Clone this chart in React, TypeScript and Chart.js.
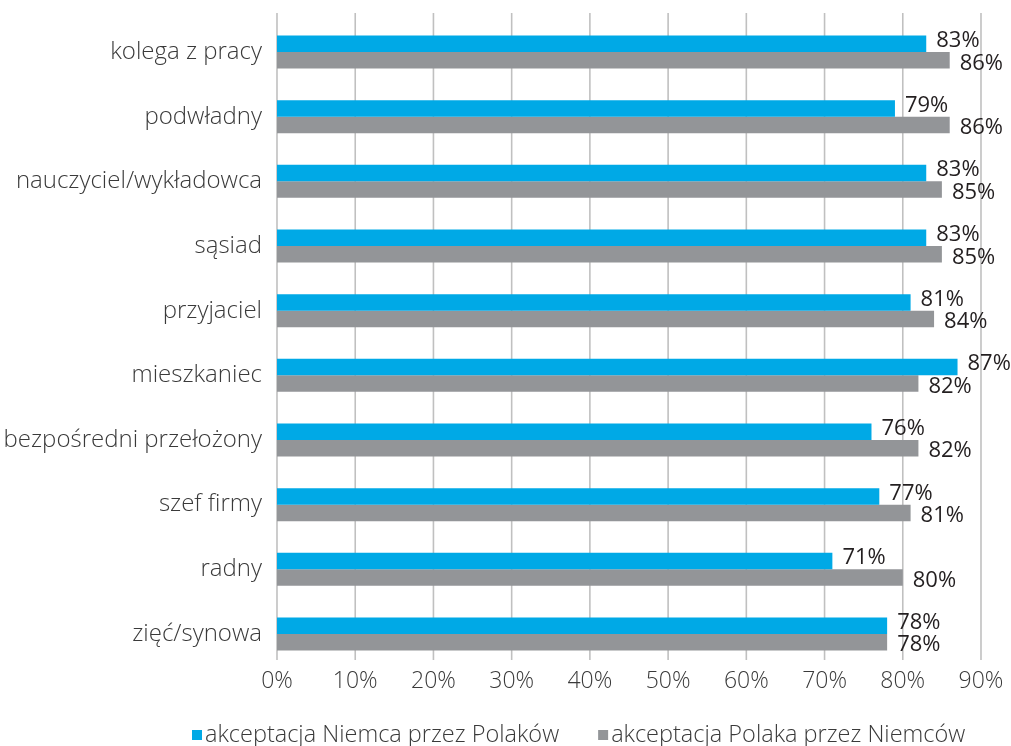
import React, { useEffect, useRef } from "react";
import { Chart, registerables } from "chart.js";

Chart.register(...registerables);

const categories = [
  "kolega z pracy",
  "podwładny",
  "nauczyciel/wykładowca",
  "sąsiad",
  "przyjaciel",
  "mieszkaniec",
  "bezpośredni przełożony",
  "szef firmy",
  "radny",
  "zięć/synowa",
];
const seriesNames = ["akceptacja Niemca przez Polaków", "akceptacja Polaka przez Niemców"];
const niemcaPrzezPolakow = [83, 79, 83, 83, 81, 87, 76, 77, 71, 78];
const polakaPrzezNiemcow = [86, 86, 85, 85, 84, 82, 82, 81, 80, 78];
const xTickValues = [0, 10, 20, 30, 40, 50, 60, 70, 80, 90];

const BLUE = "#00A9E6";
const GREY = "#939598";
const FONT = "'Open Sans'";

const gridPlugin = {
  id: "customGrid",
  beforeDatasetsDraw(chart: any) {
    const { ctx, chartArea, scales } = chart;
    const xs = scales.x;
    ctx.save();
    ctx.strokeStyle = "#c0c0c0";
    ctx.lineWidth = 1.6;
    xTickValues.forEach((v) => {
      const x = xs.getPixelForValue(v);
      ctx.beginPath();
      ctx.moveTo(x, chartArea.top - 6.7);
      ctx.lineTo(x, chartArea.bottom - 6.3);
      ctx.stroke();
    });
    ctx.restore();
  },
};

const labelPlugin = {
  id: "valueLabels",
  afterDatasetsDraw(chart: any) {
    const { ctx } = chart;
    ctx.save();
    ctx.font = `22px ${FONT}`;
    ctx.fillStyle = "#231f20";
    ctx.textBaseline = "middle";
    ctx.textAlign = "left";
    chart.data.datasets.forEach((ds: any, di: number) => {
      const meta = chart.getDatasetMeta(di);
      meta.data.forEach((bar: any, i: number) => {
        const yOff = di === 0 ? -3 : 3;
        ctx.fillText(`${ds.data[i]}%`, bar.x + 10, bar.y + yOff);
      });
    });
    ctx.restore();
  },
};

const legendPlugin = {
  id: "customLegend",
  afterDraw(chart: any) {
    const { ctx } = chart;
    ctx.save();
    ctx.font = `300 23.5px ${FONT}`;
    ctx.textBaseline = "middle";
    ctx.textAlign = "left";
    const y = 735;
    let x = 192;
    chart.data.datasets.forEach((ds: any) => {
      ctx.fillStyle = ds.backgroundColor;
      ctx.fillRect(x, y - 5, 10, 10);
      ctx.fillStyle = "#3a3a3a";
      ctx.fillText(ds.label, x + 13, y);
      x += 13 + ctx.measureText(ds.label).width + 39;
    });
    ctx.restore();
  },
};

export default function App() {
  const ref = useRef<HTMLCanvasElement>(null);
  useEffect(() => {
    document.body.style.margin = "0";
    if (!ref.current) return;
    const chart = new Chart(ref.current, {
      type: "bar",
      data: {
        labels: categories,
        datasets: [
          { label: seriesNames[0], data: niemcaPrzezPolakow, backgroundColor: BLUE, barPercentage: 1, categoryPercentage: 0.51 },
          { label: seriesNames[1], data: polakaPrzezNiemcow, backgroundColor: GREY, barPercentage: 1, categoryPercentage: 0.51 },
        ],
      },
      options: {
        indexAxis: "y",
        responsive: false,
        animation: false,
        layout: { padding: { top: 19.7, right: 30, bottom: 0, left: 0 } },
        plugins: { legend: { display: false }, tooltip: { enabled: false } },
        scales: {
          x: {
            min: 0,
            max: 90,
            ticks: {
              stepSize: 10,
              padding: 1,
              color: "#3a3a3a",
              font: { family: FONT, size: 23, weight: "300" as any },
              callback: (v: any) => `${v}%`,
            },
            grid: { display: false, drawTicks: false },
            border: { display: false },
            afterFit: (s: any) => {
              s.height = 79.7;
              s.paddingLeft = 0;
              s.paddingRight = 0;
            },
          },
          y: {
            ticks: {
              padding: 15,
              color: "#3a3a3a",
              font: { family: FONT, size: 24, weight: "300" as any },
            },
            grid: { display: false, drawTicks: false },
            border: { display: false },
            afterFit: (s: any) => {
              s.width = 277;
              s.paddingTop = 0;
              s.paddingBottom = 0;
            },
          },
        },
      },
      plugins: [gridPlugin, labelPlugin, legendPlugin],
    });
    return () => chart.destroy();
  }, []);
  return (
    <div style={{ width: 1011, height: 746 }}>
      <canvas ref={ref} width={1011} height={746} />
    </div>
  );
}
